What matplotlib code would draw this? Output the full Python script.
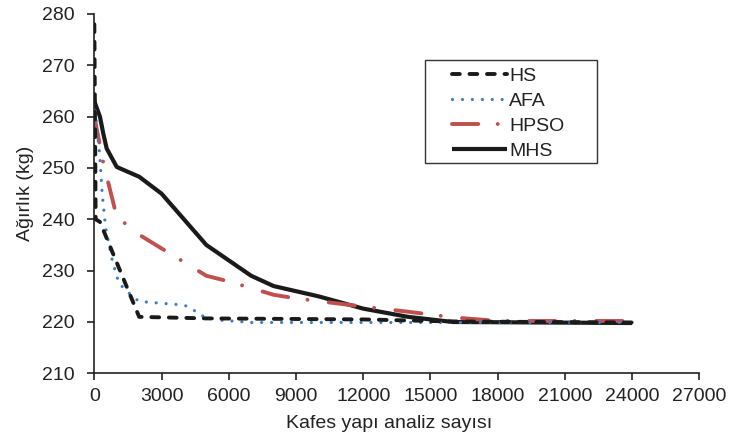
import matplotlib
matplotlib.use("Agg")
import matplotlib.pyplot as plt
from matplotlib.patches import Rectangle

plt.rcParams['font.family'] = ['Liberation Sans', 'DejaVu Sans']

hs_x = [0, 60, 250, 2000, 5000, 12000, 16000, 24000]
hs_y = [278, 240, 239.5, 221, 220.7, 220.5, 220.1, 219.9]

afa_x = [0, 250, 350, 500, 800, 1100, 1700, 2000, 4000, 4300, 4800, 5500, 7000, 24000]
afa_y = [263, 252, 245, 238.5, 232, 227.5, 225, 224, 223.3, 222.7, 221.2, 220.4, 219.9, 219.9]

hpso_x = [0, 400, 1000, 2000, 5000, 6000, 8000, 9000, 10500, 12000, 14000, 16000, 18000, 24000]
hpso_y = [260, 251, 240.5, 237, 229, 227.9, 225.3, 224.6, 223.8, 223, 222, 220.9, 220.2, 220.2]

mhs_x = [0, 250, 400, 550, 1000, 2000, 3000, 4000, 5000, 6000, 7000, 8000, 10000, 12000, 14000, 16000, 24000]
mhs_y = [263, 260, 256.7, 253.8, 250.2, 248.3, 245, 240, 235, 232, 229, 227, 225, 222.6, 221, 220, 219.8]

xticks = list(range(0, 27001, 3000))
yticks = list(range(210, 281, 10))

fig = plt.figure(figsize=(7.29, 4.43), dpi=100)
ax = fig.add_axes([0.1294, 0.1573, 0.9593 - 0.1294, 0.9684 - 0.1573])

fs = 14
txt = '#222222'
ax.plot(hs_x, hs_y, color='#1a1a1a', lw=2.8, dashes=(2.0, 2.5), dash_capstyle='round', label='HS', zorder=4)
ax.plot(afa_x, afa_y, color='#3f7cc8', lw=2.3, dashes=(0.01, 3.1), dash_capstyle='round', label='AFA', zorder=3)
ax.plot(hpso_x, hpso_y, color='#c0504d', lw=2.8, dashes=(6.75, 5.0, 0.01, 5.5), dash_capstyle='round', label='HPSO', zorder=2)
ax.plot(mhs_x, mhs_y, color='#1a1a1a', lw=3.0, solid_capstyle='butt', label='MHS', zorder=1)

ax.set_xlim(0, 27000)
ax.set_ylim(210, 280)
ax.set_xticks(xticks)
ax.set_yticks(yticks)
ax.tick_params(direction='out', length=5, width=1.2, color=txt, labelsize=fs, labelcolor=txt)
ax.tick_params(axis='x', pad=5.5)
ax.tick_params(axis='y', pad=9)
for s in ['top', 'right']:
    ax.spines[s].set_visible(False)
for s in ['left', 'bottom']:
    ax.spines[s].set_linewidth(1.2)
    ax.spines[s].set_color(txt)

ax.set_xlabel('Kafes yapı analiz sayısı', fontsize=fs, color=txt)
ax.set_ylabel('Ağırlık (kg)', fontsize=fs, color=txt)
ax.xaxis.set_label_coords(0.487, -0.116)
ax.yaxis.set_label_coords(-0.099, 0.5)

# legend frame
ax.add_patch(Rectangle((0.5466, 0.5853), 0.8309 - 0.5466, 0.872 - 0.5853, transform=ax.transAxes,
                       fill=False, edgecolor='#333333', lw=1.0, zorder=5, clip_on=False))
leg = ax.legend(loc='upper left', bbox_to_anchor=(0.591, 0.852), fontsize=fs, handlelength=2.85,
                frameon=False, borderpad=0, labelspacing=0.38, handletextpad=0.1, borderaxespad=0)
for t in leg.get_texts():
    t.set_color(txt)

fig.savefig('out.png', dpi=100)
